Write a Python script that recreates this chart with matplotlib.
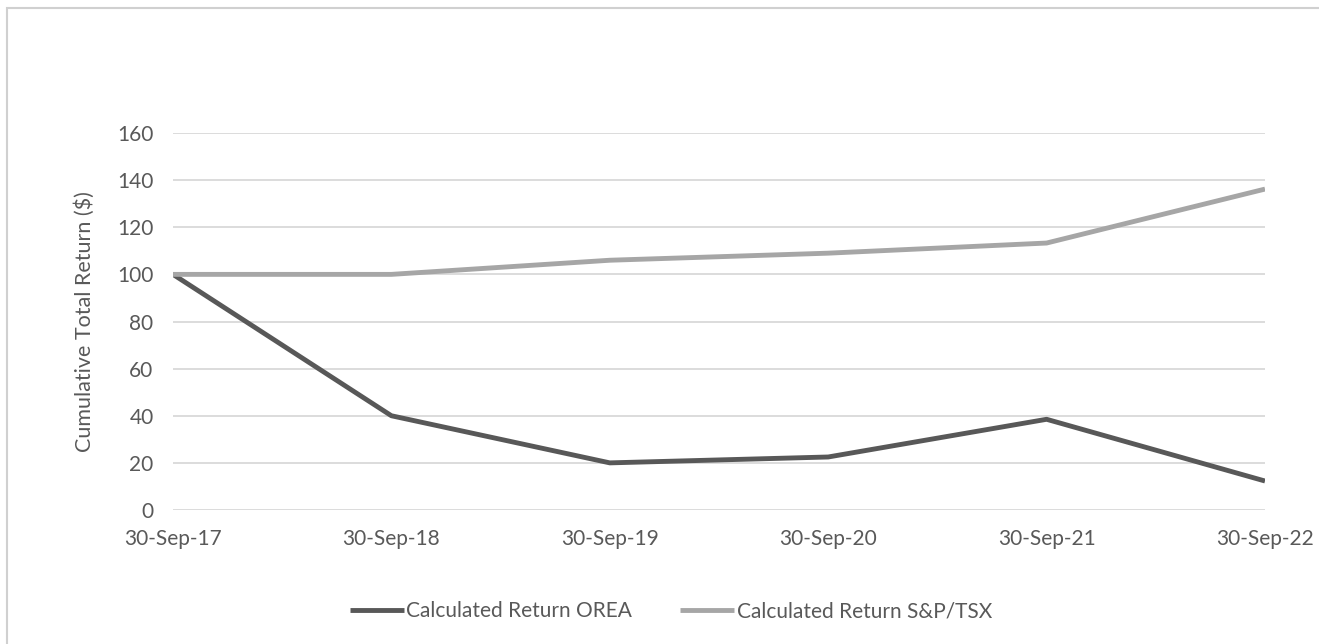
import matplotlib
matplotlib.use("Agg")
import matplotlib.pyplot as plt
from matplotlib.patches import Rectangle

categories = ["30-Sep-17", "30-Sep-18", "30-Sep-19", "30-Sep-20", "30-Sep-21", "30-Sep-22"]
orea = [100, 40, 20, 22.5, 38.5, 12.3]
sptsx = [100, 100, 106, 109, 113.3, 136.2]
yticks = [0, 20, 40, 60, 80, 100, 120, 140, 160]

plt.rcParams['font.family'] = ['Lato', 'DejaVu Sans']

W, H = 1319, 644
fig = plt.figure(figsize=(W / 100, H / 100), dpi=100)
fig.patch.set_facecolor("white")

# outer chart border
fig.patches.append(Rectangle((7 / W, -0.1), 1.2, 1 - 8 / H + 0.1, transform=fig.transFigure,
                             fill=False, edgecolor="#d0d0d0", linewidth=1.5))

ax = fig.add_axes([173 / W, 1 - 510 / H, (1265 - 173) / W, (510 - 133) / H])
x = list(range(len(categories)))
l1, = ax.plot(x, orea, color="#585858", linewidth=3.5, solid_capstyle="butt",
              label="Calculated Return OREA", zorder=3)
l2, = ax.plot(x, sptsx, color="#a6a6a6", linewidth=3.5, solid_capstyle="butt",
              label="Calculated Return S&P/TSX", zorder=3)

ax.set_xlim(0, len(categories) - 1)
ax.set_ylim(0, 160)
ax.set_yticks(yticks)
ax.set_xticks(x)
ax.set_xticklabels(categories)
ax.grid(axis="y", color="#d9d9d9", linewidth=1.3)
ax.set_axisbelow(True)
for s in ax.spines.values():
    s.set_visible(False)
ax.tick_params(axis="both", length=0, labelsize=15, colors="#595959")
ax.tick_params(axis="y", pad=14)
ax.tick_params(axis="x", pad=14)
ax.set_ylabel("Cumulative Total Return ($)", fontsize=15.5, color="#595959", labelpad=16)

fig.legend(handles=[l1, l2], loc="center", bbox_to_anchor=(671 / W, 1 - 611 / H), ncol=2,
           frameon=False, fontsize=15, handlelength=2.6, handletextpad=0.1,
           columnspacing=2.3, labelcolor="#595959")

fig.savefig("out.png", dpi=100, facecolor="white")
